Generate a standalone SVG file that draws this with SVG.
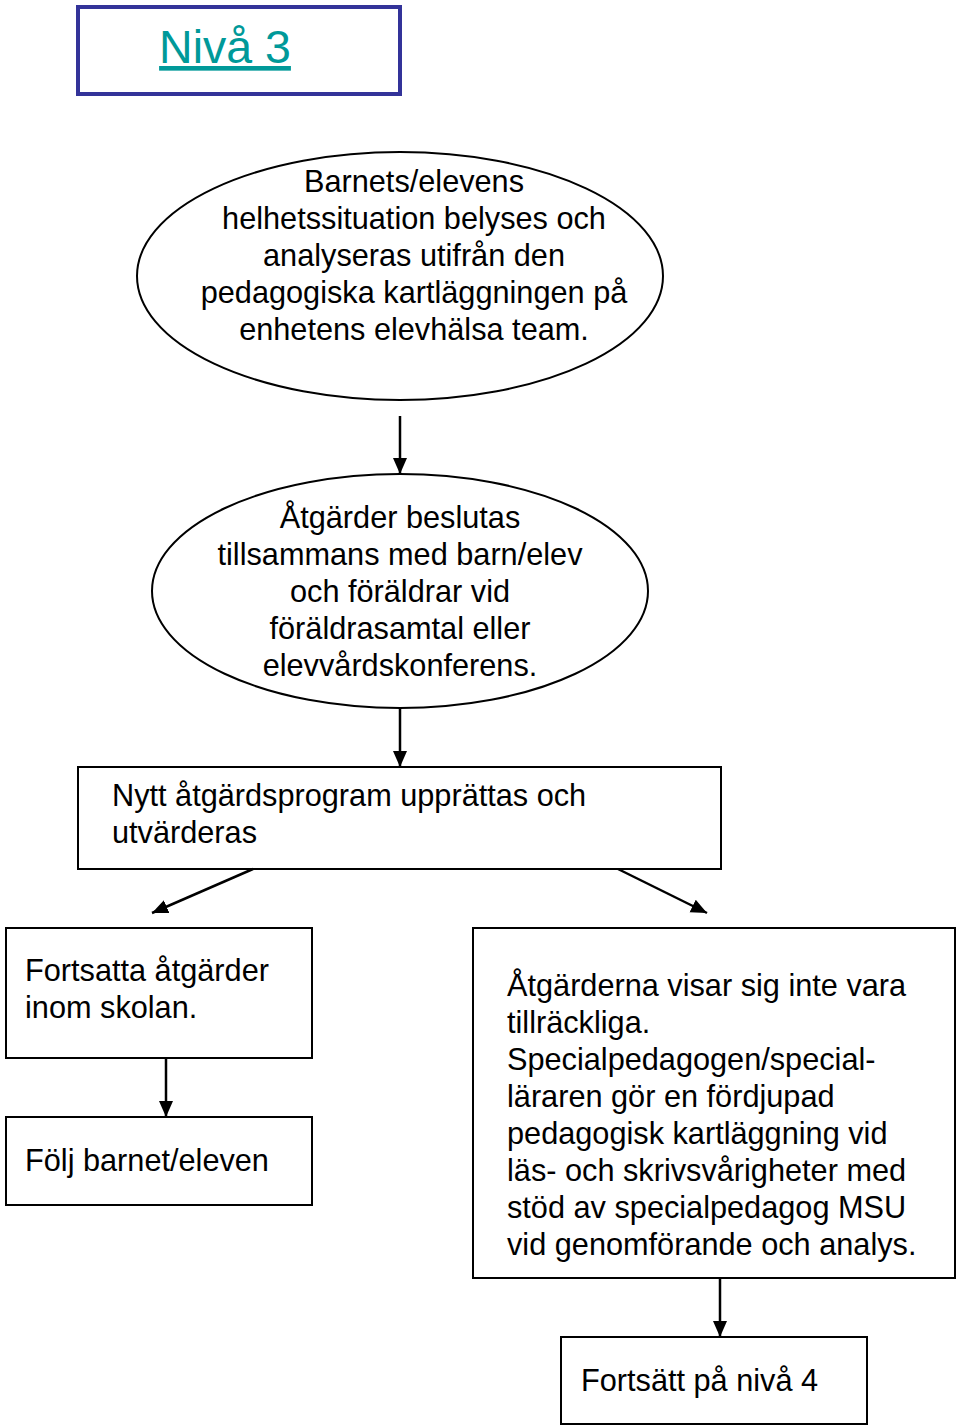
<svg xmlns="http://www.w3.org/2000/svg" width="960" height="1426" viewBox="0 0 960 1426">
<defs>
<marker id="ah" markerWidth="16" markerHeight="16" refX="16" refY="7" orient="auto" markerUnits="userSpaceOnUse" viewBox="0 0 16 14">
<path d="M0,0 L16,7 L0,14 Z" fill="#000"/>
</marker>
</defs>
<style>
.n{fill:#fff;stroke:#000;stroke-width:2}
.t{font-family:"Liberation Sans",Arial,sans-serif;font-size:30.7px;fill:#000}
.c{text-anchor:middle}
.e{stroke:#000;stroke-width:2.5;fill:none;marker-end:url(#ah)}
</style>
<rect width="960" height="1426" fill="#fff"/>
<g id="title">
<rect x="78" y="7" width="322" height="87" fill="#fff" stroke="#333399" stroke-width="4"/>
<text x="225" y="63" class="t c" style="font-size:46.5px;fill:#009999;text-decoration:underline">Nivå 3</text>
</g>
<g id="n1">
<ellipse cx="400" cy="276" rx="263" ry="124" class="n"/>
<text class="t c" x="414" y="192">Barnets/elevens</text>
<text class="t c" x="414" y="229">helhetssituation belyses och</text>
<text class="t c" x="414" y="266">analyseras utifrån den</text>
<text class="t c" x="414" y="303">pedagogiska kartläggningen på</text>
<text class="t c" x="414" y="340">enhetens elevhälsa team.</text>
</g>
<g id="n2">
<ellipse cx="400" cy="591" rx="248" ry="117" class="n"/>
<text class="t c" x="400" y="528">Åtgärder beslutas</text>
<text class="t c" x="400" y="565">tillsammans med barn/elev</text>
<text class="t c" x="400" y="602">och föräldrar vid</text>
<text class="t c" x="400" y="639">föräldrasamtal eller</text>
<text class="t c" x="400" y="676">elevvårdskonferens.</text>
</g>
<g id="n3">
<rect x="78" y="767" width="643" height="102" class="n"/>
<text class="t" x="112" y="806">Nytt åtgärdsprogram upprättas och</text>
<text class="t" x="112" y="843">utvärderas</text>
</g>
<g id="n4">
<rect x="6" y="928" width="306" height="130" class="n"/>
<text class="t" x="25" y="981">Fortsatta åtgärder</text>
<text class="t" x="25" y="1018">inom skolan.</text>
</g>
<g id="n5">
<rect x="6" y="1117" width="306" height="88" class="n"/>
<text class="t" x="25" y="1171">Följ barnet/eleven</text>
</g>
<g id="n6">
<rect x="473" y="928" width="482" height="350" class="n"/>
<text class="t" x="507" y="996">Åtgärderna visar sig inte vara</text>
<text class="t" x="507" y="1033">tillräckliga.</text>
<text class="t" x="507" y="1070">Specialpedagogen/special-</text>
<text class="t" x="507" y="1107">läraren gör en fördjupad</text>
<text class="t" x="507" y="1144">pedagogisk kartläggning vid</text>
<text class="t" x="507" y="1181">läs- och skrivsvårigheter med</text>
<text class="t" x="507" y="1218">stöd av specialpedagog MSU</text>
<text class="t" x="507" y="1255">vid genomförande och analys.</text>
</g>
<g id="n7">
<rect x="561" y="1337" width="306" height="87" class="n"/>
<text class="t" x="581" y="1391">Fortsätt på nivå 4</text>
</g>
<g id="connectors">
<line x1="400" y1="416" x2="400" y2="474" class="e"/>
<line x1="400" y1="708" x2="400" y2="767" class="e"/>
<line x1="253" y1="869" x2="152" y2="913" class="e"/>
<line x1="618" y1="869" x2="707" y2="913" class="e"/>
<line x1="166" y1="1058" x2="166" y2="1117" class="e"/>
<line x1="720" y1="1278" x2="720" y2="1337" class="e"/>
</g>
</svg>
